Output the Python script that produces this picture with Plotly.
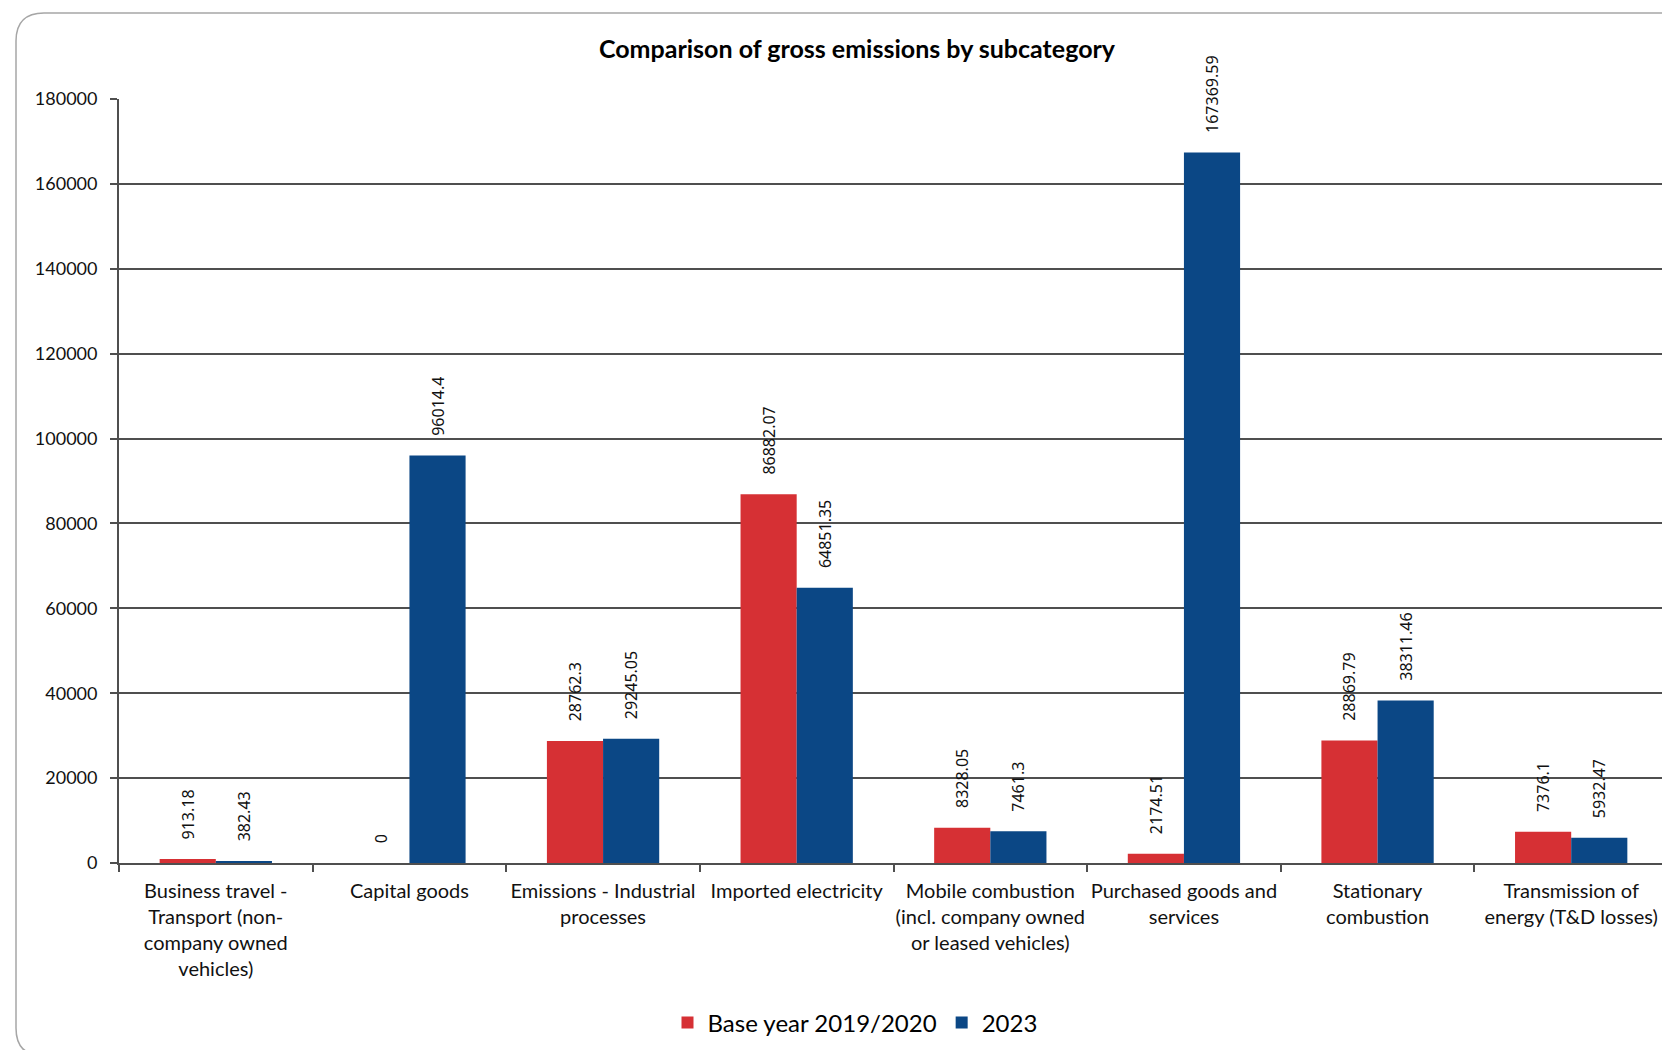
import plotly.graph_objects as go

categories = [
    "Business travel -<br>Transport (non-<br>company owned<br>vehicles)",
    "Capital goods",
    "Emissions - Industrial<br>processes",
    "Imported electricity",
    "Mobile combustion<br>(incl. company owned<br>or leased vehicles)",
    "Purchased goods and<br>services",
    "Stationary<br>combustion",
    "Transmission of<br>energy (T&D losses)",
]
base_year = [913.18, 0, 28762.3, 86882.07, 8328.05, 2174.51, 28869.79, 7376.1]
y2023 = [382.43, 96014.4, 29245.05, 64851.35, 7461.3, 167369.59, 38311.46, 5932.47]
series_names = ["Base year 2019/2020", "2023"]
y_ticks = [0, 20000, 40000, 60000, 80000, 100000, 120000, 140000, 160000, 180000]

RED = "#D63034"
BLUE = "#0B4785"
GRID = "#4F4F4F"
FONT = "Lato"

W, H = 1670, 1050
L, R, T, B = 111, 1660, 91, 855


def px(x):
    return (x - L) / (R - L)


def py(y):
    return (B - y) / (B - T)


fig = go.Figure()
for name, vals, col in [(series_names[0], base_year, RED), (series_names[1], y2023, BLUE)]:
    fig.add_trace(go.Bar(
        name=name, x=categories, y=vals,
        marker=dict(color=col, line=dict(width=0)),
        text=["    " + str(v) for v in vals],
        textposition="outside", textangle=-90, constraintext="none",
        textfont=dict(family="Noto Sans", size=16, color="#111111"),
        cliponaxis=False,
    ))

# rounded border
x0, y0, x1, y1, r, r2 = 8, 5, 1669, 1048, 28, 3
path = (
    f"M {px(x0 + r)},{py(y0)} L {px(x1 - r2)},{py(y0)} Q {px(x1)},{py(y0)} {px(x1)},{py(y0 + r2)} "
    f"L {px(x1)},{py(y1 - r2)} Q {px(x1)},{py(y1)} {px(x1 - r2)},{py(y1)} "
    f"L {px(x0 + r)},{py(y1)} Q {px(x0)},{py(y1)} {px(x0)},{py(y1 - r)} "
    f"L {px(x0)},{py(y0 + r)} Q {px(x0)},{py(y0)} {px(x0 + r)},{py(y0)} Z"
)
fig.add_shape(type="path", path=path, xref="paper", yref="paper",
              line=dict(color="#A6A6A6", width=1.5), layer="below")

fig.update_layout(
    width=W, height=H,
    margin=dict(l=L, r=W - R, t=T, b=H - B, autoexpand=False),
    paper_bgcolor="white", plot_bgcolor="white",
    barmode="group", bargap=0.42, bargroupgap=0,
    title=dict(text="<b>Comparison of gross emissions by subcategory</b>",
               x=849 / W, xref="container", xanchor="center",
               y=1 - 41 / H, yref="container", yanchor="middle",
               font=dict(family=FONT, size=25, color="#000000")),
    font=dict(family=FONT, size=20, color="#111111"),
    legend=dict(orientation="h", x=px(847), xanchor="center", y=py(1015), yanchor="middle",
                font=dict(family=FONT, size=24, color="#000000"), itemwidth=30,
                traceorder="normal"),
)
fig.update_yaxes(range=[0, 180000], tickvals=y_ticks, tickformat="d",
                 showgrid=True, gridcolor=GRID, gridwidth=1.8,
                 showline=True, linecolor=GRID, linewidth=1.8,
                 ticks="outside", ticklen=7, tickcolor=GRID, tickwidth=1.8,
                 ticklabelstandoff=9, zeroline=False,
                 tickfont=dict(family=FONT, size=18, color="#111111"))
fig.update_xaxes(showline=True, linecolor=GRID, linewidth=1.8,
                 ticks="outside", tickson="boundaries", ticklen=7, tickcolor=GRID, tickwidth=1.8,
                 showgrid=False, tickangle=0, ticklabelstandoff=9,
                 tickfont=dict(family=FONT, size=20, color="#111111"))

fig.write_html("out.html")
